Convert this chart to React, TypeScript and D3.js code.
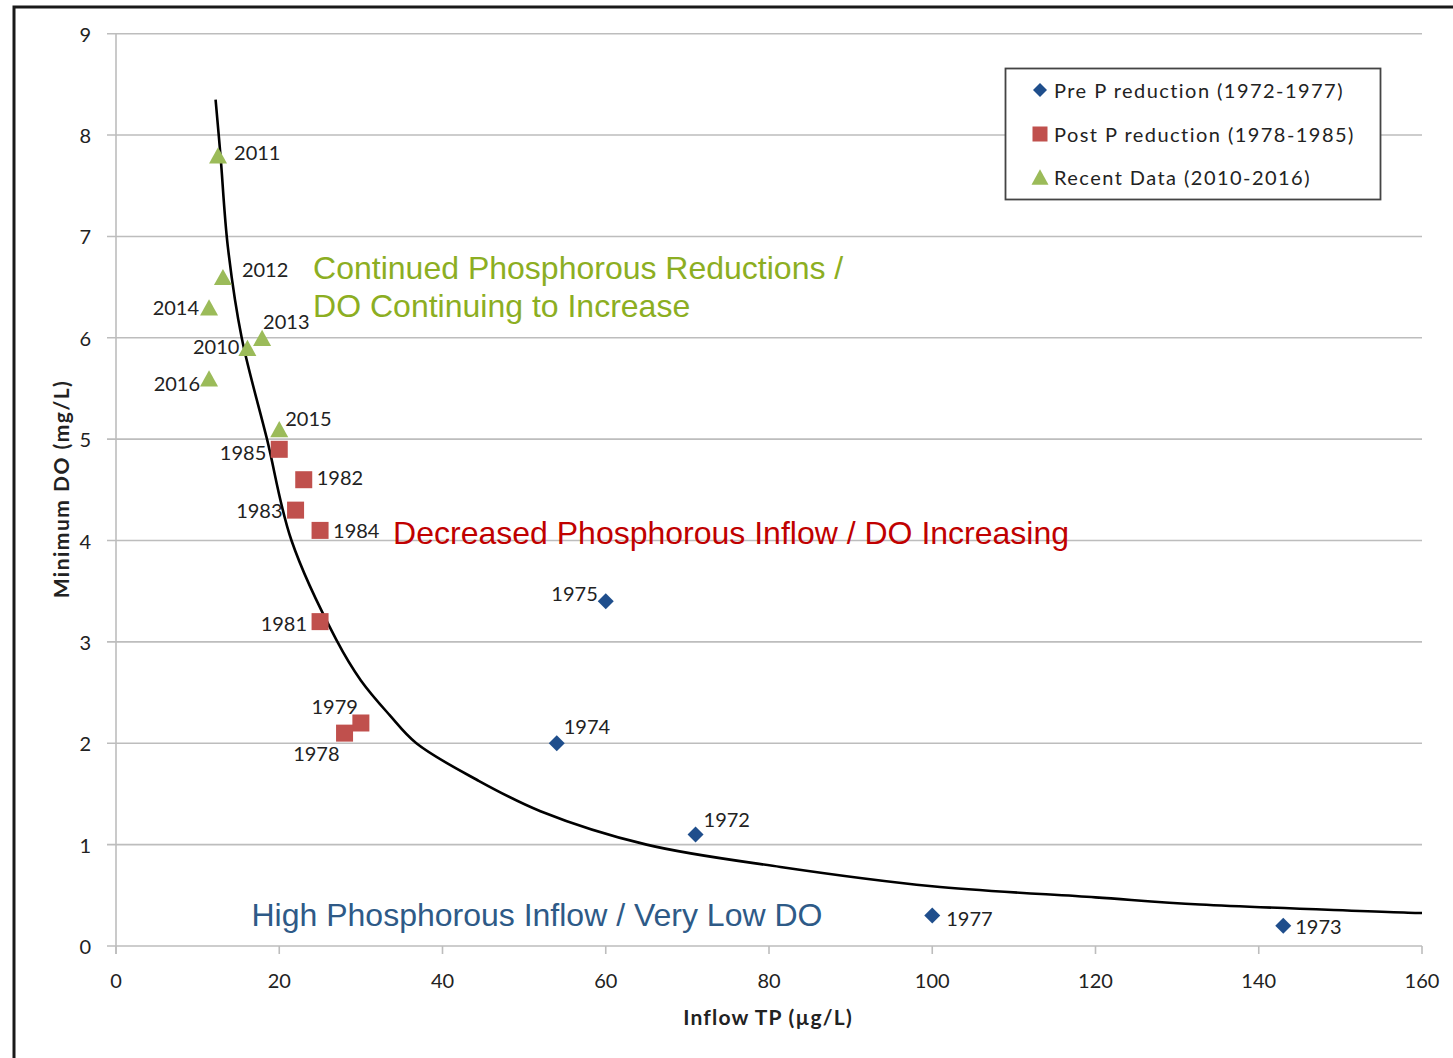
import React from "react";
import * as d3 from "d3";

// ---- data ----
const preLabels = ["1975", "1974", "1972", "1977", "1973"];
const preX = [60, 54, 71, 100, 143];
const preY = [3.4, 2.0, 1.1, 0.3, 0.2];

const postLabels = ["1985", "1982", "1983", "1984", "1981", "1979", "1978"];
const postX = [20, 23, 22, 25, 25, 30, 28];
const postY = [4.9, 4.6, 4.3, 4.1, 3.2, 2.2, 2.1];

const recentLabels = ["2011", "2012", "2014", "2013", "2010", "2016", "2015"];
const recentX = [12.5, 13.1, 11.4, 17.9, 16.1, 11.4, 20];
const recentY = [7.8, 6.6, 6.3, 6.0, 5.9, 5.6, 5.1];

// trend curve
const curveX = [12.2, 12.8, 13.7, 15.4, 18.5, 21.5, 27.0, 30.0, 33.5, 36.8, 44.2, 52.0, 65.0, 81.4, 100, 120, 132.8, 160];
const curveY = [8.35, 7.8, 6.9, 6.0, 5.0, 4.0, 3.02, 2.62, 2.28, 2.0, 1.64, 1.33, 1.0, 0.78, 0.59, 0.48, 0.41, 0.325];

const xTicks = [0, 20, 40, 60, 80, 100, 120, 140, 160];
const yTicks = [0, 1, 2, 3, 4, 5, 6, 7, 8, 9];

const legendLabels = ["Pre P reduction (1972-1977)", "Post P reduction (1978-1985)", "Recent Data (2010-2016)"];
const annotations = [
  { lines: ["Continued Phosphorous Reductions /", "DO Continuing to Increase"], x: 24.15, y: 6.58, color: "#8CAE22" },
  { lines: ["Decreased Phosphorous Inflow / DO Increasing"], x: 33.95, y: 3.97, color: "#C00000" },
  { lines: ["High Phosphorous Inflow / Very Low DO"], x: 16.6, y: 0.2, color: "#2E5A87" },
];

// label placements (pixel offsets, anchor)
const labelPos: Record<string, [number, number, string]> = {
  "2011": [16, -3, "start"],
  "2012": [19, -8, "start"],
  "2014": [-10, 0, "end"],
  "2013": [1, -17, "start"],
  "2010": [-8, -2, "end"],
  "2016": [-9, 5, "end"],
  "2015": [6, -11, "start"],
  "1985": [-13, 3, "end"],
  "1982": [13, -3, "start"],
  "1983": [-13, 0, "end"],
  "1984": [13, 0, "start"],
  "1981": [-13, 1, "end"],
  "1979": [-3, -17, "end"],
  "1978": [-5, 20, "end"],
  "1975": [-8, -8, "end"],
  "1974": [7, -17, "start"],
  "1972": [8, -15, "start"],
  "1977": [14, 2, "start"],
  "1973": [12, 0, "start"],
};

const W = 1453;
const H = 1058;
const x = d3.scaleLinear().domain([0, 160]).range([116, 1422]);
const y = d3.scaleLinear().domain([0, 9]).range([946, 33.7]);

const BLUE = "#1F4E8C";
const RED = "#C0504D";
const GREEN = "#9BBB59";
const LABEL_FONT = "Lato, 'Open Sans', sans-serif";
const ANN_FONT = "'Liberation Sans', Arial, sans-serif";

function Diamond({ cx, cy, r }: { cx: number; cy: number; r: number }) {
  return <path d={`M${cx},${cy - r}L${cx + r},${cy}L${cx},${cy + r}L${cx - r},${cy}Z`} fill={BLUE} />;
}
function Square({ cx, cy, s }: { cx: number; cy: number; s: number }) {
  return <rect x={cx - s / 2} y={cy - s / 2} width={s} height={s} fill={RED} />;
}
function Triangle({ cx, cy, s }: { cx: number; cy: number; s: number }) {
  const h = s * 0.9;
  return <path d={`M${cx},${cy - h / 2}L${cx + s / 2},${cy + h / 2}L${cx - s / 2},${cy + h / 2}Z`} fill={GREEN} />;
}

function Label({ px, py, text }: { px: number; py: number; text: string }) {
  const p = labelPos[text] || [10, 0, "start"];
  return (
    <text x={px + p[0]} y={py + p[1]} textAnchor={p[2] as any} dominantBaseline="central" fontSize={20} fill="#222" fontFamily={LABEL_FONT}>
      {text}
    </text>
  );
}

export default function App() {
  const line = d3
    .line<number>()
    .x((_, i) => x(curveX[i]))
    .y((_, i) => y(curveY[i]))
    .curve(d3.curveCatmullRom.alpha(0.5));
  const linePath = line(curveX) || "";

  return (
    <svg width={W} height={H} style={{ position: "absolute", left: 0, top: 0, background: "#fff" }}>
      <rect x={0} y={0} width={W} height={H} fill="#fff" />
      {/* frame */}
      <rect x={14} y={7} width={W + 50} height={H + 50} fill="none" stroke="#1a1a1a" strokeWidth={3} />

      {/* gridlines */}
      {yTicks.map((t) => (
        <line key={"g" + t} x1={107} x2={1422} y1={y(t)} y2={y(t)} stroke="#BDBDBD" strokeWidth={1.6} />
      ))}
      {/* y axis line */}
      <line x1={116} x2={116} y1={y(9)} y2={y(0) + 8} stroke="#BDBDBD" strokeWidth={1.6} />
      {/* x ticks */}
      {xTicks.map((t) => (
        <line key={"xt" + t} x1={x(t)} x2={x(t)} y1={y(0)} y2={y(0) + 8} stroke="#BDBDBD" strokeWidth={1.6} />
      ))}
      {/* tick labels */}
      {yTicks.map((t) => (
        <text key={"yl" + t} x={91} y={y(t)} textAnchor="end" dominantBaseline="central" fontSize={20} fill="#222" fontFamily={LABEL_FONT}>
          {t}
        </text>
      ))}
      {xTicks.map((t) => (
        <text key={"xl" + t} x={x(t)} y={980} textAnchor="middle" dominantBaseline="central" fontSize={20} fill="#222" fontFamily={LABEL_FONT}>
          {t}
        </text>
      ))}

      {/* axis titles */}
      <text x={768} y={1016} textAnchor="middle" dominantBaseline="central" fontSize={21} fontWeight="bold" letterSpacing={1.2} fill="#222" fontFamily={LABEL_FONT}>
        Inflow TP (µg/L)
      </text>
      <text
        transform={`translate(60,489) rotate(-90)`}
        textAnchor="middle"
        dominantBaseline="central"
        fontSize={21}
        fontWeight="bold"
        letterSpacing={1.5}
        fill="#222"
        fontFamily={LABEL_FONT}
      >
        Minimum DO (mg/L)
      </text>

      {/* trend curve */}
      <path d={linePath} fill="none" stroke="#000" strokeWidth={2.6} />

      {/* annotations */}
      {annotations.map((a, i) =>
        a.lines.map((ln, j) => (
          <text key={"a" + i + j} x={x(a.x)} y={y(a.y) + j * 38} fontSize={32} fill={a.color} fontFamily={ANN_FONT}>
            {ln}
          </text>
        ))
      )}

      {/* points */}
      {preX.map((v, i) => (
        <g key={"pre" + i}>
          <Diamond cx={x(v)} cy={y(preY[i])} r={8} />
          <Label px={x(v)} py={y(preY[i])} text={preLabels[i]} />
        </g>
      ))}
      {postX.map((v, i) => (
        <g key={"post" + i}>
          <Square cx={x(v)} cy={y(postY[i])} s={17} />
          <Label px={x(v)} py={y(postY[i])} text={postLabels[i]} />
        </g>
      ))}
      {recentX.map((v, i) => (
        <g key={"rec" + i}>
          <Triangle cx={x(v)} cy={y(recentY[i])} s={18} />
          <Label px={x(v)} py={y(recentY[i])} text={recentLabels[i]} />
        </g>
      ))}

      {/* legend */}
      <rect x={1005.5} y={68.5} width={375} height={131} fill="#fff" stroke="#444" strokeWidth={1.8} />
      <Diamond cx={1040} cy={90} r={7} />
      <Square cx={1040} cy={134} s={15} />
      <Triangle cx={1040} cy={177} s={17} />
      {legendLabels.map((l, i) => (
        <text key={"lg" + i} x={1054} y={[90, 134, 177][i]} dominantBaseline="central" fontSize={20} letterSpacing={1.45} fill="#222" fontFamily={LABEL_FONT}>
          {l}
        </text>
      ))}
    </svg>
  );
}
